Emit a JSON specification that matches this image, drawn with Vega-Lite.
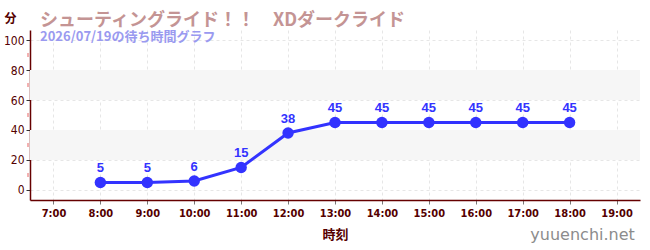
{
  "$schema": "https://vega.github.io/schema/vega-lite/v6.json",
  "width": 610,
  "height": 170,
  "autosize": {"type": "none"},
  "padding": {"left": 30, "top": 30, "right": 10, "bottom": 50},
  "background": "white",
  "config": {
    "font": "Noto Sans CJK JP",
    "view": {"stroke": null},
    "axis": {"labelOverlap": false}
  },
  "title": {
    "text": "シューティングライド！！　XDダークライド",
    "subtitle": "2026/07/19の待ち時間グラフ",
    "anchor": "start",
    "frame": "group",
    "dx": 10,
    "offset": -32,
    "fontSize": 18,
    "fontWeight": "bold",
    "color": "#c49494",
    "subtitleFontSize": 13,
    "subtitleFontWeight": "bold",
    "subtitleColor": "#9a9af0",
    "subtitlePadding": 1
  },
  "datasets": {
    "wait": [
      {"hour": 8, "minutes": 5},
      {"hour": 9, "minutes": 5},
      {"hour": 10, "minutes": 6},
      {"hour": 11, "minutes": 15},
      {"hour": 12, "minutes": 38},
      {"hour": 13, "minutes": 45},
      {"hour": 14, "minutes": 45},
      {"hour": 15, "minutes": 45},
      {"hour": 16, "minutes": 45},
      {"hour": 17, "minutes": 45},
      {"hour": 18, "minutes": 45}
    ],
    "bands": [
      {"lo": 20, "hi": 40},
      {"lo": 60, "hi": 80}
    ],
    "minor": [
      {"m": 10}, {"m": 30}, {"m": 50}, {"m": 70}, {"m": 90}
    ],
    "site": [
      {"label": "yuuenchi.net"}
    ]
  },
  "layer": [
    {
      "data": {"name": "bands"},
      "mark": {"type": "rect", "color": "#f6f6f6"},
      "encoding": {
        "y": {
          "field": "lo",
          "type": "quantitative",
          "scale": {"domain": [-6.67, 106.67], "nice": false, "zero": false},
          "axis": {
            "title": "分",
            "titleAngle": 0,
            "titleX": -20,
            "titleY": -12,
            "titleAlign": "center",
            "titleBaseline": "middle",
            "titleColor": "#550000",
            "titleFontSize": 12,
            "titleFontWeight": "bold",
            "values": [0, 20, 40, 60, 80, 100],
            "tickCount": 12,
            "labelOverlap": false,
            "labelFont": "DejaVu Sans Condensed, DejaVu Sans, sans-serif",
            "labelFontSize": 12,
            "labelColor": "#550000",
            "labelPadding": 2,
            "domainColor": "#660000",
            "domainWidth": 1.5,
            "tickColor": "#333333",
            "tickSize": 4,
            "grid": true,
            "gridColor": "#e6e6e6",
            "gridDash": [3, 3]
          }
        },
        "y2": {"field": "hi"}
      }
    },
    {
      "data": {"name": "wait"},
      "mark": {"type": "line", "color": "#3333ff", "strokeWidth": 3},
      "encoding": {
        "x": {
          "field": "hour",
          "type": "quantitative",
          "scale": {"domain": [6.5, 19.5], "nice": false, "zero": false},
          "axis": {
            "title": "時刻",
            "values": [7, 8, 9, 10, 11, 12, 13, 14, 15, 16, 17, 18, 19],
            "tickCount": 20,
            "labelExpr": "datum.value + ':00'",
            "labelFont": "DejaVu Sans Condensed, DejaVu Sans, sans-serif",
            "labelFontSize": 11,
            "labelFontWeight": "bold",
            "labelColor": "#550000",
            "labelPadding": 3,
            "labelOverlap": false,
            "domainColor": "#660000",
            "domainWidth": 1.5,
            "tickColor": "#777777",
            "tickSize": 4,
            "grid": true,
            "gridColor": "#e6e6e6",
            "gridDash": [3, 3],
            "titleColor": "#550000",
            "titleFontSize": 13,
            "titleFontWeight": "bold",
            "titlePadding": 10
          }
        },
        "y": {"field": "minutes", "type": "quantitative"}
      }
    },
    {
      "data": {"name": "minor"},
      "mark": {"type": "tick", "color": "#dd2222", "size": 4, "thickness": 1, "xOffset": -2},
      "encoding": {
        "y": {"field": "m", "type": "quantitative"},
        "x": {"datum": 6.5, "type": "quantitative"}
      }
    },
    {
      "data": {"name": "wait"},
      "mark": {"type": "point", "filled": true, "color": "#3333ff", "size": 130, "opacity": 1},
      "encoding": {
        "x": {"field": "hour", "type": "quantitative"},
        "y": {"field": "minutes", "type": "quantitative"}
      }
    },
    {
      "data": {"name": "wait"},
      "mark": {"type": "text", "color": "#3333ff", "fontSize": 13, "fontWeight": "bold", "font": "Liberation Sans", "dy": -14},
      "encoding": {
        "x": {"field": "hour", "type": "quantitative"},
        "y": {"field": "minutes", "type": "quantitative"},
        "text": {"field": "minutes"}
      }
    },
    {
      "data": {"name": "site"},
      "mark": {"type": "text", "color": "#8c8c8c", "fontSize": 16, "font": "DejaVu Sans", "align": "right", "baseline": "middle", "clip": false},
      "encoding": {
        "x": {"datum": 19.39, "type": "quantitative"},
        "y": {"datum": -30, "type": "quantitative"},
        "text": {"field": "label"}
      }
    }
  ]
}
